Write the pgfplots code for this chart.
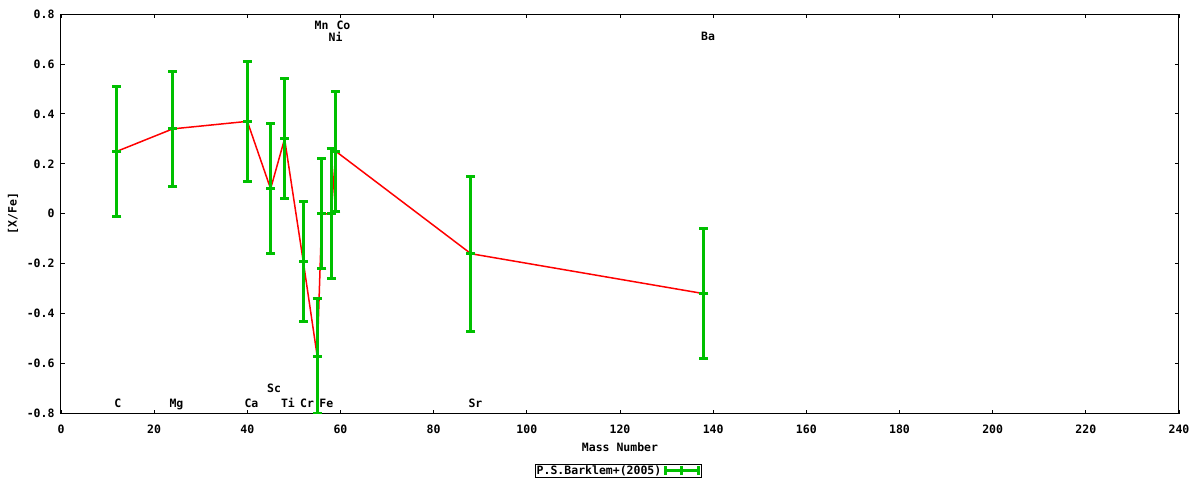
\documentclass[border=0pt]{standalone}
\usepackage{fontspec}
\setmainfont{DejaVu Sans Mono}
\usepackage{pgfplots}
\pgfplotsset{compat=1.18}

\definecolor{gpgreen}{RGB}{0,192,0}
\newcommand{\gpfont}{\fontsize{11.5}{13}\selectfont\bfseries}
\tikzset{elem/.style={anchor=base west, inner sep=0pt, font=\gpfont}}

% [X/Fe] vs mass number, P.S.Barklem+(2005)
\pgfplotstableread{
x    y     e
12   0.25  0.26
24   0.34  0.23
40   0.37  0.24
45   0.10  0.26
48   0.30  0.24
52  -0.19  0.24
55  -0.57  0.23
56   0.00  0.22
58   0.00  0.26
59   0.25  0.24
88  -0.16  0.31
138 -0.32  0.26
}\barklem

\begin{document}
\begin{tikzpicture}
\begin{axis}[
    scale only axis,
    width=1118pt, height=399.5pt,
    xmin=0, xmax=240,
    ymin=-0.8, ymax=0.8,
    xtick={0,20,40,60,80,100,120,140,160,180,200,220,240},
    xticklabels={0,20,40,60,80,100,120,140,160,180,200,220,240},
    ytick={-0.8,-0.6,-0.4,-0.2,0,0.2,0.4,0.6,0.8},
    yticklabels={-0.8,-0.6,-0.4,-0.2,0,0.2,0.4,0.6,0.8},
    tick align=inside,
    major tick length=4pt,
    tick style={black, line width=0.8pt},
    axis line style={black, line width=1pt},
    ticklabel style={font=\gpfont},
    xticklabel style={yshift=-8pt},
    yticklabel style={xshift=-3pt},
    xlabel={Mass Number},
    ylabel={[X/Fe]},
    label style={font=\gpfont},
    xlabel style={at={(axis description cs:0.5,-0.0839)}, anchor=center},
    ylabel style={at={(axis description cs:-0.0429,0.5)}, anchor=center},
    legend plot pos=right,
    legend style={at={(axis description cs:0.4987,-0.1252)}, anchor=north,
        draw=black, line width=0.8pt, inner sep=0.5pt, font=\gpfont,
        nodes={inner sep=1pt}},
    legend image code/.code={
        \draw[draw=gpgreen, line width=3pt] (0pt,0pt) -- (36pt,0pt);
        \draw[draw=gpgreen, line width=3pt] (1.5pt,-4.5pt) -- (1.5pt,4.5pt);
        \draw[draw=gpgreen, line width=3pt] (18pt,-4.5pt) -- (18pt,4.5pt);
        \draw[draw=gpgreen, line width=3pt] (34.5pt,-4.5pt) -- (34.5pt,4.5pt);
    },
]
\coordinate (o) at (rel axis cs:0,0);

\addplot[red, line width=1.5pt, no marks, forget plot] table[x=x, y=y] {\barklem};

\addplot[draw=none, mark=-, mark size=4.5pt,
    mark options={draw=gpgreen, line width=3pt, solid},
    error bars/.cd, y dir=both, y explicit,
    error bar style={draw=gpgreen, line width=3pt},
    error mark=|,
    error mark options={draw=gpgreen, line width=3pt, mark size=4.5pt}]
    table[x=x, y=y, y error=e] {\barklem};
\addlegendentry{P.S.Barklem+(2005)}

\node[elem] at (axis cs:11.44,-0.776) {C};
\node[elem] at (axis cs:23.25,-0.776) {Mg};
\node[elem] at (axis cs:39.35,-0.776) {Ca};
\node[elem] at (axis cs:44.2,-0.714) {Sc};
\node[elem] at (axis cs:47.2,-0.776) {Ti};
\node[elem] at (axis cs:51.3,-0.776) {Cr};
\node[elem] at (axis cs:55.45,-0.776) {Fe};
\node[elem] at (axis cs:54.4,0.738) {Mn};
\node[elem] at (axis cs:59.1,0.738) {Co};
\node[elem] at (axis cs:57.4,0.69) {Ni};
\node[elem] at (axis cs:87.45,-0.776) {Sr};
\node[elem] at (axis cs:137.4,0.692) {Ba};
\end{axis}
\pgfresetboundingbox
\path (o) ++(-61pt,-66.5pt) rectangle ++(1200pt,480pt);
\end{tikzpicture}
\end{document}
